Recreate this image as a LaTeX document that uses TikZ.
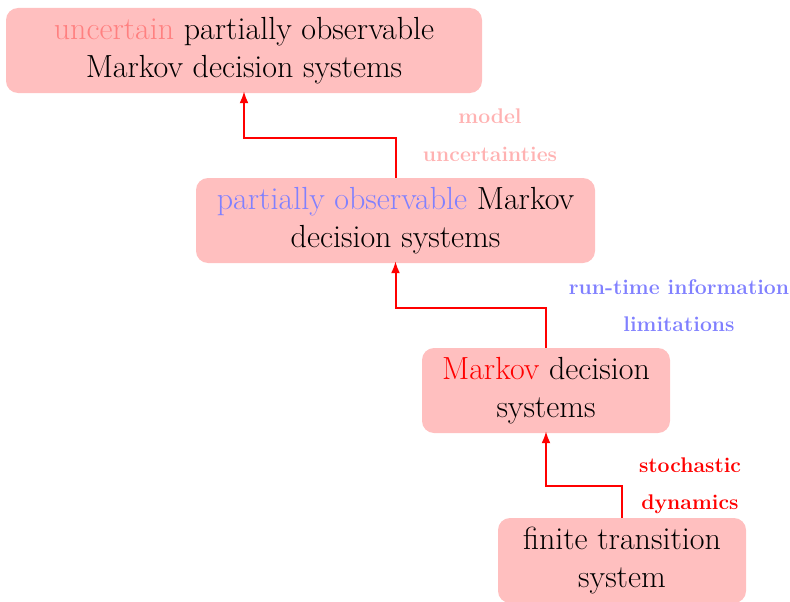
\documentclass[tikz,border=0pt]{standalone}
\usetikzlibrary{arrows.meta}
\begin{document}
\begin{tikzpicture}[x=1pt,y=-1pt,
  sysbox/.style={fill=red!25, draw=none, rounded corners=12pt, align=center,
    inner sep=0pt, font=\fontsize{32}{38}\selectfont},
  lbl/.style={font=\fontsize{21.2}{24}\selectfont\bfseries, inner sep=0pt},
  link/.style={red, line width=2pt, -{Latex[length=12pt,width=9pt]}}]
\useasboundingbox (0,0) rectangle (790,602);
\node[sysbox, minimum width=476pt, minimum height=85pt] (u) at (244,50.5)
  {\textcolor{red!50}{uncertain} partially observable\\Markov decision systems};
\node[sysbox, minimum width=399pt, minimum height=85pt] (p) at (395.5,220.5)
  {\textcolor{blue!50}{partially observable} Markov\\decision systems};
\node[sysbox, minimum width=248pt, minimum height=85pt] (m) at (546,390.5)
  {\textcolor{red}{Markov} decision\\systems};
\node[sysbox, minimum width=248pt, minimum height=85pt] (f) at (622,560.5)
  {finite transition\\system};
\coordinate (c1) at (622,486);
\coordinate (c2) at (546,308);
\coordinate (c3) at (396,138);
\draw[link] (f.north) -- (c1) -| ([yshift=2pt]m.south);
\draw[link] (m.north) -- (c2) -| ([yshift=2pt]p.south);
\draw[link] ([xshift=0.5pt]p.north) |- (c3) -| ([yshift=2pt]u.south);
\node[lbl, text=red] (l1a) at (690,465) {stochastic};
\node[lbl, text=red] (l1b) at (690,504) {dynamics};
\node[lbl, text=blue!50] (l2a) at (679,287) {run-time information};
\node[lbl, text=blue!50] (l2b) at (679,324) {limitations};
\node[lbl, text=red!30] (l3a) at (490,116) {model};
\node[lbl, text=red!30] (l3b) at (490,154) {uncertainties};
\end{tikzpicture}
\end{document}
